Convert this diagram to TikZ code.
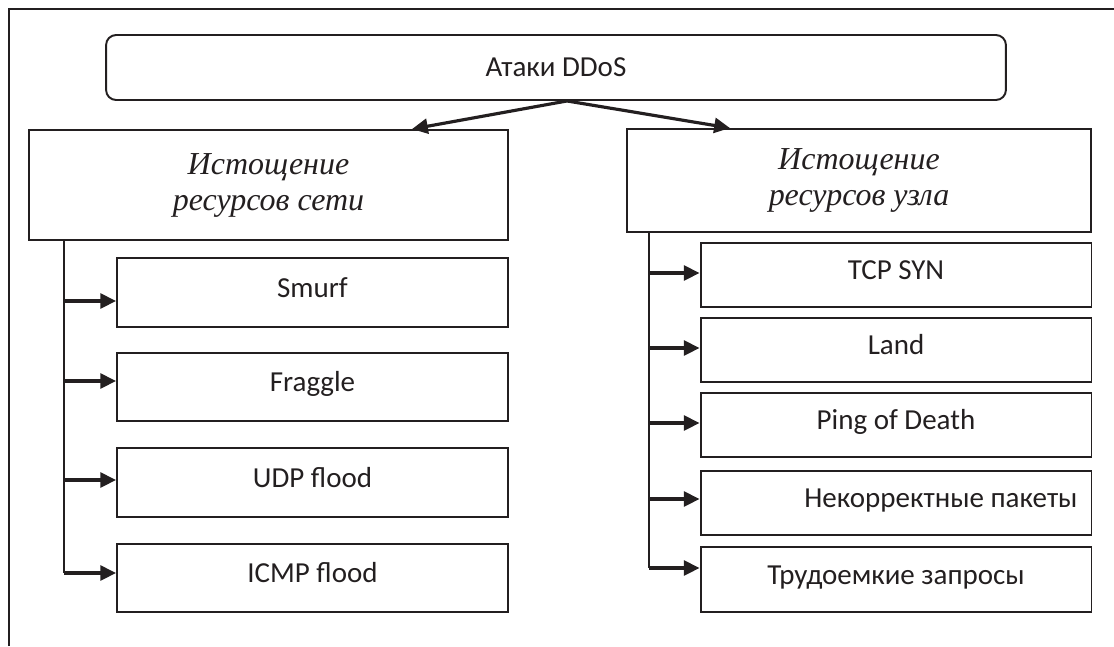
\documentclass[tikz,border=0pt]{standalone}
\usepackage{fontspec}
\setmainfont{Carlito}
\newfontfamily\groupfont{Liberation Serif}
\usetikzlibrary{arrows.meta, positioning, calc}
\definecolor{Ink}{HTML}{231F20}

\begin{document}
\begin{tikzpicture}[x=0.02cm, y=-0.02cm,
    >={Triangle[length=9pt, width=8.5pt]},
    leaf/.style={draw=Ink, line width=1.1pt, inner sep=0pt, text=Ink,
                 minimum width=7.82cm, minimum height=#1,
                 font=\fontsize{16.5}{20}\selectfont,
                 text height=10.8pt, text depth=5.5pt},
    group/.style={draw=Ink, line width=1.1pt, inner sep=0pt, text=Ink,
                  align=center, font=\groupfont\itshape\fontsize{18.2}{20.5}\selectfont},
    link/.style={->, Ink, line width=1.8pt},
    trunk/.style={Ink, line width=1.1pt}]
  \useasboundingbox (0,0) rectangle (1114,646);
  % Frame
  \draw[Ink, line width=0.8pt] (9,646) -- (9,9) -- (1114,9);
  % Root
  \node[draw=Ink, line width=1.1pt, rounded corners=0.2cm, inner sep=0pt,
        minimum width=18cm, minimum height=1.3cm, text=Ink,
        font=\fontsize{16.5}{20}\selectfont] (ddos) at (556,67.5) {Атаки DDoS};
  % Groups
  \node[group, minimum width=9.58cm, minimum height=2.2cm] (net) at (268.5,185)
    {Истощение\\ресурсов сети};
  \node[group, minimum width=9.28cm, minimum height=2.06cm] (host) at (859,180.5)
    {Истощение\\ресурсов узла};
  \coordinate (split) at ($(ddos.south)+(11,0)$);
  \draw[link] (split) -- ($(net.north)+(143.5,0)$);
  \draw[link] (split) -- ($(host.north)+(-129,0)$);
  % Network attacks
  \node[leaf=1.38cm] (smurf)   at (312.5,292.5) {Smurf};
  \node[leaf=1.36cm] (fraggle) at (312.5,387)   {Fraggle};
  \node[leaf=1.38cm] (udp)     at (312.5,482.5) {UDP flood};
  \node[leaf=1.36cm] (icmp)    at (312.5,578)   {ICMP flood};
  % Host attacks
  \node[leaf=1.28cm] (tcpsyn) at (896,275) {TCP SYN};
  \node[leaf=1.28cm] (land)   at (896,350) {Land};
  \node[leaf=1.28cm] (ping)   at (896,425) {Ping of Death};
  \node[leaf=1.28cm, text width=7.26cm, inner xsep=0.28cm, align=flush right]
    (badpkt) at (896,503) {Некорректные пакеты};
  \node[leaf=1.3cm]  (heavy)  at (896,579.5) {Трудоемкие запросы};
  % Trunks
  \coordinate (netfoot) at ($(net.south west)+(36,0)$);
  \coordinate (hostfoot) at ($(host.south west)+(23,0)$);
  \draw[trunk] (netfoot) -- (netfoot |- 0,573);
  \draw[trunk] (hostfoot) -- (hostfoot |- 0,568);
  \foreach \n/\y in {smurf/301, fraggle/381, udp/480, icmp/573}
    \draw[link] (netfoot |- 0,\y) -- (\n.west |- 0,\y);
  \foreach \n/\y in {tcpsyn/273, land/348, ping/423, badpkt/499, heavy/568}
    \draw[link] (hostfoot |- 0,\y) -- (\n.west |- 0,\y);
\end{tikzpicture}
\end{document}
